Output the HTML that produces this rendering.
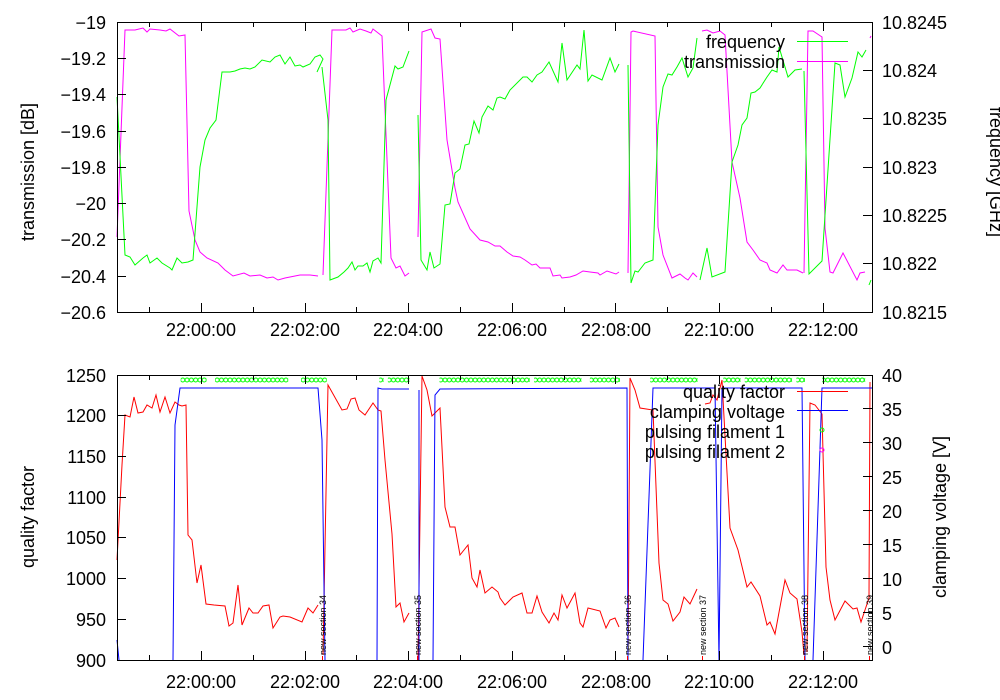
<!DOCTYPE html>
<html><head><meta charset="utf-8"><style>
body{margin:0;background:#fff;}
svg{display:block;font-family:"Liberation Sans",sans-serif;}
</style></head><body>
<svg width="1000" height="700" viewBox="0 0 1000 700" xmlns="http://www.w3.org/2000/svg">
<defs>
<pattern id="cp" x="0" y="377" width="4.3" height="6" patternUnits="userSpaceOnUse">
<circle cx="2.15" cy="3" r="2" fill="none" stroke="#00ff00" stroke-width="1"/>
</pattern>
</defs>
<rect width="1000" height="700" fill="#fff"/>
<g fill="none" stroke-width="1">
<polyline stroke="#ff00ff" points="117,237 125,30 135,30 143,28 147,32 150,29 160,30 166,31 170,29 179,36 185,35 189,211 195,240 200,252 207,258 218,263 225,270 233,276 244,273 250,276 260,275 267,278 273,277 278,280 285,278 300,275 310,275 318,276"/>
<polyline stroke="#ff00ff" points="323,275 332,30 346,30 350,28 353,32 360,29 366,31 371,33 373,29 382,36 391,258 396,268 400,266 405,276 409,273"/>
<polyline stroke="#ff00ff" points="418,237 422,32 431,29 435,38 440,39 447,140 455,188 458,202 470,229 480,240 488,242 495,246 500,246 507,252 513,256 520,257 525,260 532,265 536,264 540,268 550,268 553,276 560,275 562,278 570,277 576,275 583,271 590,272 598,273 600,275 607,271 616,274 619,272"/>
<polyline stroke="#ff00ff" points="628,273 631,32 633,31 655,36 658,227 663,255 672,278 680,274 685,278 688,280 693,273 697,277"/>
<polyline stroke="#ff00ff" points="702,31 707,30 713,33 720,31 725,35 732,162 740,198 747,242 753,250 760,260 767,263 770,270 777,273 783,265 787,270 797,270 803,273"/>
<polyline stroke="#ff00ff" points="804,273 808,31 813,31 822,37 825,228 830,272 833,273 843,253 857,280 860,273 865,272"/>
<polyline stroke="#ff00ff" points="870,38 871,36"/>
<polyline stroke="#00ff00" points="117,97 125,255 130,257 135,265 143,258 147,255 150,263 157,258 162,263 170,268 172,270 177,258 182,263 188,262 193,260 200,167 205,140 210,128 216,120 222,72 230,72 235,71 240,69 245,68 250,69 255,67 262,60 270,62 275,57 280,55 285,64 290,57 295,66 300,65 303,67 310,64 315,57 320,55 323,59 317,72"/>
<polyline stroke="#00ff00" points="322,67 328,120 330,280 338,277 344,272 348,268 352,262 355,270 358,266 363,266 367,263 370,272 373,261 378,258 381,263 386,100 395,66 398,69 403,67 409,51"/>
<polyline stroke="#00ff00" points="418,115 421,260 427,270 430,252 434,268 440,264 445,205 450,204 455,173 460,169 465,145 469,144 474,121 479,133 482,117 488,106 493,110 497,98 500,97 505,99 510,90 523,77 527,77 532,82 537,75 542,72 549,62 558,82 562,43 567,80 577,65 580,69 584,30 588,81 592,75 602,80 610,58 615,72 619,64"/>
<polyline stroke="#00ff00" points="628,65 631,283 635,271 638,272 645,263 653,260 658,125 663,87 668,74 672,75 677,67 682,58 688,77 693,68 697,38"/>
<polyline stroke="#00ff00" points="700,280 707,248 712,277 725,272 732,162 738,145 742,125 747,118 751,93 755,92 760,88 767,77 772,70 777,72 779,47 788,77 795,70 802,69"/>
<polyline stroke="#00ff00" points="804,71 809,274 822,261 835,63 840,65 845,97 852,78 858,52 862,57 866,50"/>
<polyline stroke="#00ff00" points="869,285 871,280"/>
<polyline stroke="#ff0000" points="117,560 122,465 125,415 130,417 134,397 138,413 143,412 147,405 152,408 156,395 160,412 165,397 170,413 175,402 179,405 182,406 186,405 188,535 192,540 197,583 201,565 206,604 214,605 225,606 229,626 233,623 238,585 242,625 249,608 253,613 258,613 263,606 269,605 273,628 280,617 283,616 290,617 302,622 308,608 313,613 318,605"/>
<polyline stroke="#ff0000" points="323,655 328,385 342,410 347,409 351,399 355,398 359,410 365,415 373,403 378,410 381,411 385,460 392,534 396,607 400,603 404,622 409,613"/>
<polyline stroke="#ff0000" points="418,660 422,376 427,390 432,416 440,408 445,507 450,527 455,527 460,555 468,545 472,578 477,587 480,570 485,593 492,587 498,592 500,598 505,605 513,597 522,593 527,613 532,613 537,596 542,612 549,623 554,613 558,620 562,595 567,608 575,593 580,623 583,627 588,608 600,611 606,628 610,620 615,618 619,627"/>
<polyline stroke="#ff0000" points="628,655 630,378 635,390 640,408 653,410 659,563 663,600 668,604 673,621 680,612 684,597 690,604 697,589"/>
<polyline stroke="#ff0000" points="705,404 710,403 713,395 717,400 722,380 730,528 738,550 747,587 751,582 760,596 767,625 770,622 775,634 785,580 790,593 797,599 802,632 804,655"/>
<polyline stroke="#ff0000" points="807,652 810,403 815,405 822,414 826,567 830,600 835,620 845,601 853,609 857,608 861,622 865,610 869,598 870,382"/>
<polyline stroke="#0000ff" points="117,640 119,660"/>
<polyline stroke="#0000ff" points="173,660 175,425 180,388 318,388 322,440 325,660"/>
<polyline stroke="#0000ff" points="377,660 378,388 382,389 409,389"/>
<polyline stroke="#0000ff" points="419,390 419,660"/>
<polyline stroke="#0000ff" points="433,660 435,395 440,389 627,388 628,660"/>
<polyline stroke="#0000ff" points="643,660 653,388 715,388 719,660"/>
<polyline stroke="#0000ff" points="719,660 722,388 802,388 805,660"/>
<polyline stroke="#0000ff" points="813,660 822,388 872,388"/>
</g>
<g fill="url(#cp)">
<rect x="180.7" y="377" width="25.8" height="6"/>
<rect x="215.1" y="377" width="73.1" height="6"/>
<rect x="301" y="377" width="25.8" height="6"/>
<rect x="379.3" y="377" width="4.3" height="6"/>
<rect x="387.9" y="377" width="21.5" height="6"/>
<rect x="439.5" y="377" width="90.3" height="6"/>
<rect x="534.1" y="377" width="47.3" height="6"/>
<rect x="589.9" y="377" width="30.1" height="6"/>
<rect x="650.2" y="377" width="47.3" height="6"/>
<rect x="723.3" y="377" width="17.2" height="6"/>
<rect x="744.8" y="377" width="47.3" height="6"/>
<rect x="796.4" y="377" width="8.6" height="6"/>
<rect x="822.2" y="377" width="43" height="6"/>
</g>
<g fill="none" stroke="#000" stroke-width="1">
<rect x="117.5" y="22.5" width="755" height="290"/>
<rect x="117.5" y="375.5" width="755" height="285"/>
</g>
<g stroke="#000" stroke-width="1">
<path d="M149.5,312v-5M149.5,22v5M201.5,312v-9M201.5,22v9M253.5,312v-5M253.5,22v5M305.5,312v-9M305.5,22v9M356.5,312v-5M356.5,22v5M408.5,312v-9M408.5,22v9M460.5,312v-5M460.5,22v5M512.5,312v-9M512.5,22v9M564.5,312v-5M564.5,22v5M615.5,312v-9M615.5,22v9M667.5,312v-5M667.5,22v5M719.5,312v-9M719.5,22v9M771.5,312v-5M771.5,22v5M823.5,312v-9M823.5,22v9"/>
<path d="M149.5,660v-5M149.5,375v5M201.5,660v-9M201.5,375v9M253.5,660v-5M253.5,375v5M305.5,660v-9M305.5,375v9M356.5,660v-5M356.5,375v5M408.5,660v-9M408.5,375v9M460.5,660v-5M460.5,375v5M512.5,660v-9M512.5,375v9M564.5,660v-5M564.5,375v5M615.5,660v-9M615.5,375v9M667.5,660v-5M667.5,375v5M719.5,660v-9M719.5,375v9M771.5,660v-5M771.5,375v5M823.5,660v-9M823.5,375v9"/>
<path d="M117,58.5h9M117,94.5h9M117,131.5h9M117,167.5h9M117,203.5h9M117,239.5h9M117,276.5h9"/>
<path d="M872,70.5h-9M872,118.5h-9M872,167.5h-9M872,215.5h-9M872,263.5h-9"/>
<path d="M117,415.5h9M117,456.5h9M117,497.5h9M117,537.5h9M117,578.5h9M117,619.5h9"/>
<path d="M872,408.5h-9M872,442.5h-9M872,476.5h-9M872,510.5h-9M872,544.5h-9M872,578.5h-9M872,612.5h-9M872,646.5h-9"/>
</g>
<g font-size="18" fill="#000">
<g text-anchor="end">
<text x="106" y="29">−19</text><text x="106" y="65">−19.2</text><text x="106" y="101">−19.4</text><text x="106" y="138">−19.6</text><text x="106" y="174">−19.8</text><text x="106" y="210">−20</text><text x="106" y="246">−20.2</text><text x="106" y="283">−20.4</text><text x="106" y="319">−20.6</text>
<text x="106" y="382">1250</text><text x="106" y="422">1200</text><text x="106" y="463">1150</text><text x="106" y="504">1100</text><text x="106" y="544">1050</text><text x="106" y="585">1000</text><text x="106" y="626">950</text><text x="106" y="667">900</text>
</g>
<g text-anchor="start">
<text x="882" y="29">10.8245</text><text x="882" y="77">10.824</text><text x="882" y="125">10.8235</text><text x="882" y="174">10.823</text><text x="882" y="222">10.8225</text><text x="882" y="270">10.822</text><text x="882" y="319">10.8215</text>
<text x="882" y="382">40</text><text x="882" y="416">35</text><text x="882" y="450">30</text><text x="882" y="484">25</text><text x="882" y="518">20</text><text x="882" y="552">15</text><text x="882" y="586">10</text><text x="882" y="620">5</text><text x="882" y="654">0</text>
</g>
<g text-anchor="middle">
<text x="201" y="336">22:00:00</text><text x="305" y="336">22:02:00</text><text x="408" y="336">22:04:00</text><text x="512" y="336">22:06:00</text><text x="616" y="336">22:08:00</text><text x="719" y="336">22:10:00</text><text x="823" y="336">22:12:00</text>
<text x="201" y="688">22:00:00</text><text x="305" y="688">22:02:00</text><text x="408" y="688">22:04:00</text><text x="512" y="688">22:06:00</text><text x="616" y="688">22:08:00</text><text x="719" y="688">22:10:00</text><text x="823" y="688">22:12:00</text>
<text transform="translate(34,172) rotate(-90)">transmission [dB]</text>
<text transform="translate(34,517) rotate(-90)">quality factor</text>
<text transform="translate(946,517) rotate(-90)">clamping voltage [V]</text>
<text transform="translate(990,172) rotate(90)">frequency [GHz]</text>
</g>
<g text-anchor="end">
<text x="785" y="48">frequency</text><text x="785" y="68">transmission</text>
<text x="785" y="398">quality factor</text><text x="785" y="418">clamping voltage</text><text x="785" y="438">pulsing filament 1</text><text x="785" y="458">pulsing filament 2</text>
</g>
</g>
<g stroke-width="1" fill="none">
<line x1="797" y1="41.5" x2="848" y2="41.5" stroke="#00ff00"/>
<line x1="797" y1="61.5" x2="848" y2="61.5" stroke="#ff00ff"/>
<line x1="797" y1="391.5" x2="848" y2="391.5" stroke="#ff0000"/>
<line x1="797" y1="410.5" x2="848" y2="410.5" stroke="#0000ff"/>
<circle cx="822" cy="430" r="2" stroke="#00ff00"/><circle cx="822" cy="450" r="2" stroke="#ff00ff"/>
</g>
<g font-size="9" fill="#000">
<text transform="translate(326,655) rotate(-90)">new section 34</text>
<text transform="translate(421,655) rotate(-90)">new section 35</text>
<text transform="translate(631,655) rotate(-90)">new section 36</text>
<text transform="translate(706,655) rotate(-90)">new section 37</text>
<text transform="translate(808,655) rotate(-90)">new section 38</text>
<text transform="translate(873,655) rotate(-90)">new section 39</text>
</g>
<g stroke="#ff0000" stroke-width="1">
<path d="M322.5,656v4M417.5,656v4M627.5,656v4M702.5,656v4M804.5,656v4M869.5,656v4"/>
</g>
</svg>
</body></html>
